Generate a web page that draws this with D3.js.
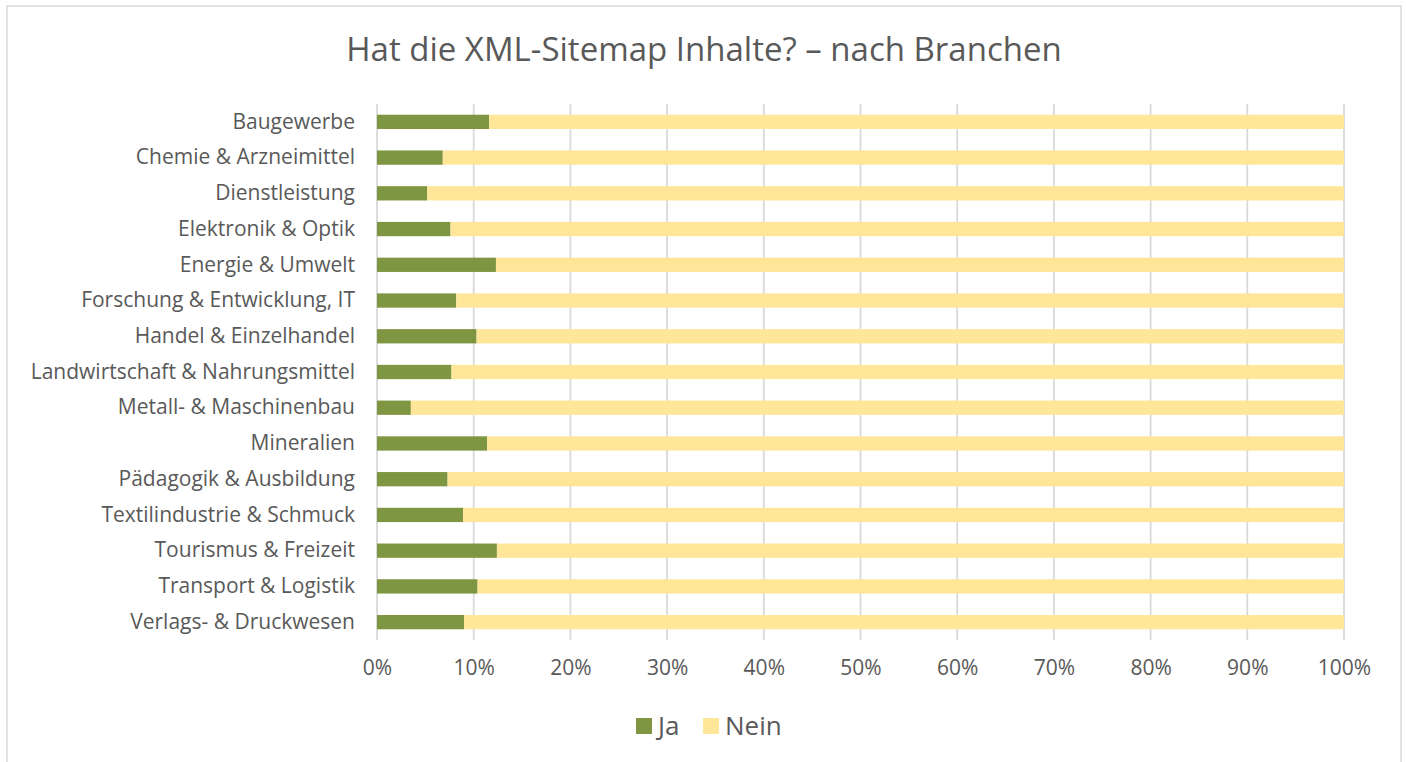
<!DOCTYPE html>
<html>
<head>
<meta charset="utf-8">
<script src="https://cdn.jsdelivr.net/npm/d3@7"></script>
<style>
  body { margin: 0; background: #fff; }
  text { font-family: "Open Sans", "Noto Sans", sans-serif; fill: #595959; }
</style>
</head>
<body>
<div id="chart"></div>
<script>
// Branchen (top to bottom)
const categories = [
  "Baugewerbe", "Chemie & Arzneimittel", "Dienstleistung", "Elektronik & Optik",
  "Energie & Umwelt", "Forschung & Entwicklung, IT", "Handel & Einzelhandel",
  "Landwirtschaft & Nahrungsmittel", "Metall- & Maschinenbau", "Mineralien",
  "Pädagogik & Ausbildung", "Textilindustrie & Schmuck", "Tourismus & Freizeit",
  "Transport & Logistik", "Verlags- & Druckwesen"
];
// share "Ja" in %
const jaValues = [11.6, 6.8, 5.2, 7.6, 12.3, 8.2, 10.3, 7.7, 3.5, 11.4, 7.3, 8.9, 12.4, 10.4, 9.0];
// share "Nein" = rest up to 100 %
const neinValues = [88.4, 93.2, 94.8, 92.4, 87.7, 91.8, 89.7, 92.3, 96.5, 88.6, 92.7, 91.1, 87.6, 89.6, 91.0];
const xTicks = [0, 0.1, 0.2, 0.3, 0.4, 0.5, 0.6, 0.7, 0.8, 0.9, 1];
const seriesNames = ["Ja", "Nein"];
const seriesColors = ["#7e9542", "#ffe699"];

const width = 1406, height = 762;
const margin = { top: 104, right: 62, bottom: 122, left: 377 };

const svg = d3.select("#chart").append("svg")
  .attr("width", width)
  .attr("height", height);

// outer frame
svg.append("rect")
  .attr("x", 7).attr("y", 6)
  .attr("width", 1394).attr("height", 780)
  .attr("fill", "#fff")
  .attr("stroke", "#d9d9d9")
  .attr("stroke-width", 1.5);

svg.append("text")
  .attr("x", 704).attr("y", 61)
  .attr("text-anchor", "middle")
  .style("font-size", "33px")
  .text("Hat die XML-Sitemap Inhalte? – nach Branchen");

const x = d3.scaleLinear().domain([0, 1]).range([margin.left, width - margin.right]);
const y = d3.scaleBand()
  .domain(categories)
  .range([margin.top, height - margin.bottom])
  .paddingInner(0.6)
  .paddingOuter(0.3);

// vertical grid lines
svg.append("g")
  .selectAll("line")
  .data(xTicks)
  .join("line")
  .attr("x1", d => x(d)).attr("x2", d => x(d))
  .attr("y1", margin.top).attr("y2", height - margin.bottom)
  .attr("stroke", "#d9d9d9")
  .attr("stroke-width", 1.8);

// stacked data
const rows = categories.map((c, i) => ({ cat: c, Ja: jaValues[i] / 100, Nein: neinValues[i] / 100 }));
const stack = d3.stack().keys(seriesNames)(rows);

svg.append("g")
  .selectAll("g")
  .data(stack)
  .join("g")
  .attr("fill", (d, i) => seriesColors[i])
  .selectAll("rect")
  .data(d => d)
  .join("rect")
  .attr("x", d => x(d[0]))
  .attr("y", d => y(d.data.cat))
  .attr("width", d => x(d[1]) - x(d[0]))
  .attr("height", y.bandwidth());

// y axis (labels only)
const yAxis = svg.append("g")
  .attr("transform", `translate(${margin.left},0)`)
  .call(d3.axisLeft(y).tickSize(0).tickPadding(22));
yAxis.select(".domain").remove();
yAxis.selectAll("text")
  .style("font-size", "21px")
  .attr("fill", "#595959");

// x axis (labels only)
const xAxis = svg.append("g")
  .attr("transform", `translate(0,${height - margin.bottom})`)
  .call(d3.axisBottom(x).tickValues(xTicks).tickFormat(d3.format(".0%")).tickSize(0).tickPadding(20));
xAxis.select(".domain").remove();
xAxis.selectAll("text")
  .style("font-size", "21px")
  .attr("fill", "#595959");

// legend
const legend = svg.append("g");
const legendX = [636, 703];
seriesNames.forEach((name, i) => {
  legend.append("rect")
    .attr("x", legendX[i]).attr("y", 718)
    .attr("width", 16).attr("height", 16)
    .attr("fill", seriesColors[i]);
  legend.append("text")
    .attr("x", legendX[i] + 22).attr("y", 735)
    .style("font-size", "26px")
    .text(name);
});
</script>
</body>
</html>
